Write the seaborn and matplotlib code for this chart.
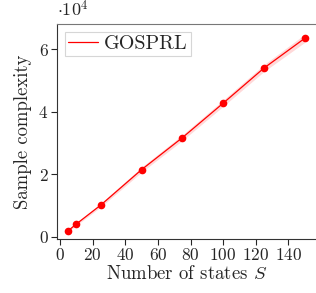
import numpy as np
import pandas as pd
import matplotlib
matplotlib.use('Agg')
import matplotlib.pyplot as plt
import seaborn as sns

# values (sample complexity in units of 1e4)
states = [5, 10, 25, 50, 75, 100, 125, 150]
complexity = [0.20, 0.415, 1.02, 2.15, 3.17, 4.27, 5.39, 6.34]
band_low = [0.17, 0.37, 0.96, 2.07, 3.08, 4.17, 5.28, 6.21]
band_high = [0.23, 0.46, 1.08, 2.23, 3.26, 4.37, 5.50, 6.47]
label = 'GOSPRL'

sns.set_style('ticks')
plt.rcParams['font.family'] = 'serif'
plt.rcParams['font.serif'] = ['cmr10', 'DejaVu Serif']
plt.rcParams['mathtext.fontset'] = 'cm'
plt.rcParams['axes.formatter.use_mathtext'] = True
plt.rcParams['axes.unicode_minus'] = False

data = pd.DataFrame({'S': states, 'y': complexity})

fig, ax = plt.subplots(figsize=(3.16, 2.93), dpi=100)
ax.fill_between(states, band_low, band_high, color='red', alpha=0.15, linewidth=0)
sns.lineplot(data=data, x='S', y='y', color='red', marker='o', markersize=5.5,
             markeredgewidth=0, linewidth=0.9, label=label, ax=ax)

ax.set_xlim(-2, 157)
ax.set_ylim(-0.06, 6.8)
ax.set_xticks([0, 20, 40, 60, 80, 100, 120, 140])
ax.set_yticks([0, 2, 4, 6])
ax.tick_params(labelsize=12.5, length=4, width=0.8, direction='out', pad=2)
ax.set_xlabel('Number of states $S$', fontsize=13.5, labelpad=1)
ax.set_ylabel('Sample complexity', fontsize=13.5, labelpad=5)
ax.text(0.0, 1.02, r'$\cdot 10^4$', transform=ax.transAxes, fontsize=13,
        ha='left', va='bottom')

for side in ['left', 'bottom']:
    ax.spines[side].set_color('#333333')
ax.spines['top'].set_color('#777777')
ax.spines['right'].set_visible(False)

leg = ax.legend(loc='upper left', fontsize=14.5, frameon=True, fancybox=False,
                edgecolor='#cccccc', handlelength=1.5, handletextpad=0.3,
                borderpad=0.15, borderaxespad=0.4)
leg.get_frame().set_linewidth(0.8)
for h in leg.get_lines():
    h.set_marker('')

fig.subplots_adjust(left=0.18, right=1.0, top=0.918, bottom=0.185)
fig.savefig('out.png', dpi=100)
